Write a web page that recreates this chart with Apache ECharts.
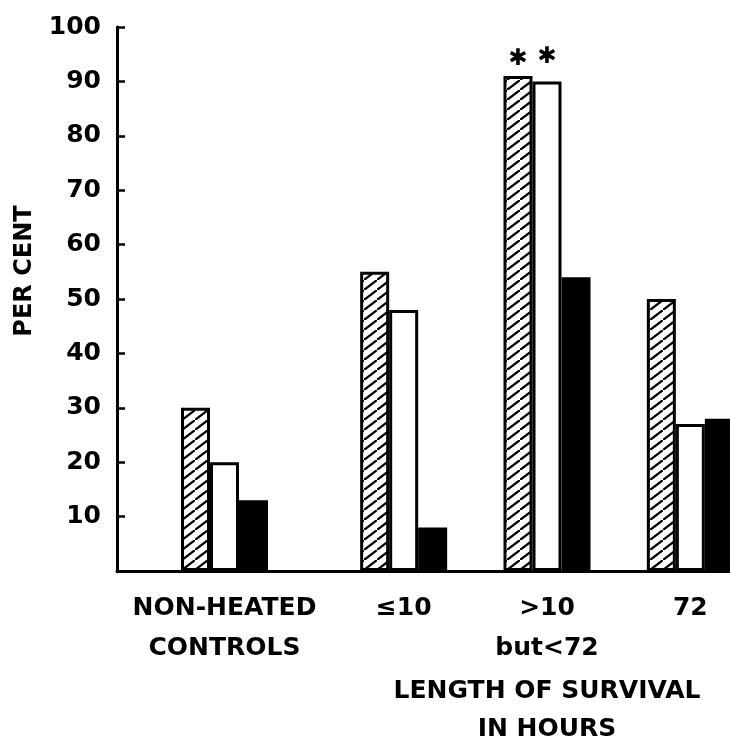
<!DOCTYPE html>
<html>
<head>
<meta charset="utf-8">
<script src="https://cdn.jsdelivr.net/npm/echarts@6/dist/echarts.min.js"></script>
<style>
  html, body { margin: 0; padding: 0; background: #fff; }
  #chart { width: 730px; height: 743px; }
</style>
</head>
<body>
<div id="chart"></div>
<script>
// group labels along the x axis
const controlLabel = ["NON-HEATED\nCONTROLS"];
const survivalLabels = ["≤10", ">10\nbut<72", "72"];

// per cent values, first one is the controls group
const hatchedValues = [30, 55, 91, 50];
const openValues = [20, 48, 90, 27];
const solidValues = [13, 8, 54, 28];

// which bars carry an asterisk
const hatchedStar = [0, 0, 1, 0];
const openStar = [0, 0, 1, 0];

const yTicks = [0, 10, 20, 30, 40, 50, 60, 70, 80, 90, 100];

const FONT = "DejaVu Sans";

// diagonal hatch used for the first bar of each group
function makeHatch() {
  const c = document.createElement("canvas");
  c.width = 13;
  c.height = 10;
  const ctx = c.getContext("2d");
  ctx.fillStyle = "#fff";
  ctx.fillRect(0, 0, 13, 10);
  ctx.strokeStyle = "#000";
  ctx.lineWidth = 2.2;
  ctx.beginPath();
  ctx.moveTo(-13, 20);
  ctx.lineTo(26, -10);
  ctx.stroke();
  return c;
}
const hatch = { image: makeHatch(), repeat: "repeat" };

function starData(values, stars, gap) {
  return values.map((v, i) => {
    if (!stars[i]) return v;
    return {
      value: v,
      label: {
        show: true,
        position: "top",
        distance: gap,
        formatter: "✱",
        fontSize: 23,
        fontWeight: "bold",
        color: "#000",
        fontFamily: FONT,
      },
    };
  });
}

const chart = echarts.init(document.getElementById("chart"), null, { renderer: "canvas" });

const barBase = {
  type: "bar",
  barWidth: 29,
  barGap: "0%",
  emphasis: { disabled: true },
  animation: false,
};

// grid 0 holds the controls, grid 1 the survival groups
const series = [];
const sets = [
  { start: 0, end: 1 },
  { start: 1, end: 4 },
];
sets.forEach((s, gi) => {
  series.push(Object.assign({}, barBase, {
    xAxisIndex: gi, yAxisIndex: gi,
    itemStyle: { color: hatch, borderColor: "#000", borderWidth: 3 },
    data: starData(hatchedValues, hatchedStar, 5).slice(s.start, s.end),
  }));
  series.push(Object.assign({}, barBase, {
    xAxisIndex: gi, yAxisIndex: gi,
    itemStyle: { color: "#fff", borderColor: "#000", borderWidth: 3 },
    data: starData(openValues, openStar, 13).slice(s.start, s.end),
  }));
  series.push(Object.assign({}, barBase, {
    xAxisIndex: gi, yAxisIndex: gi,
    itemStyle: { color: "#000", borderColor: "#000", borderWidth: 3 },
    data: solidValues.slice(s.start, s.end),
  }));
});

const xLabelStyle = {
  fontFamily: FONT,
  fontWeight: "bold",
  fontSize: 25,
  lineHeight: 40,
  color: "#000",
  margin: 17,
};

const option = {
  backgroundColor: "#fff",
  animation: false,
  grid: [
    { left: 117, top: 27, width: 215, bottom: 172, outerBoundsMode: "none" },
    { left: 332, top: 27, width: 430, bottom: 172, outerBoundsMode: "none" },
  ],
  xAxis: [
    {
      type: "category",
      gridIndex: 0,
      data: controlLabel,
      axisLine: { lineStyle: { color: "#000", width: 3 } },
      axisTick: { show: false },
      axisLabel: xLabelStyle,
    },
    {
      type: "category",
      gridIndex: 1,
      data: survivalLabels,
      axisLine: { lineStyle: { color: "#000", width: 3 } },
      axisTick: { show: false },
      axisLabel: xLabelStyle,
      name: "LENGTH OF SURVIVAL\nIN HOURS",
      nameLocation: "middle",
      nameGap: 100,
      nameTextStyle: {
        fontFamily: FONT,
        fontWeight: "bold",
        fontSize: 25,
        lineHeight: 38,
        color: "#000",
      },
    },
  ],
  yAxis: [
    {
      type: "value",
      gridIndex: 0,
      min: yTicks[0],
      max: yTicks[yTicks.length - 1],
      interval: 10,
      splitLine: { show: false },
      axisLine: { show: true, lineStyle: { color: "#000", width: 3 } },
      axisTick: { show: true, inside: true, length: 8, lineStyle: { color: "#000", width: 2.5 } },
      axisLabel: {
        fontFamily: FONT,
        fontWeight: "bold",
        fontSize: 25,
        color: "#000",
        margin: 16,
        formatter: (v) => (v === 0 ? "" : v),
      },
      name: "PER CENT",
      nameLocation: "middle",
      nameRotate: 90,
      nameGap: 80,
      nameTextStyle: {
        fontFamily: FONT,
        fontWeight: "bold",
        fontSize: 24,
        color: "#000",
        padding: [0, 0, 0, 56],
      },
    },
    {
      type: "value",
      gridIndex: 1,
      min: yTicks[0],
      max: yTicks[yTicks.length - 1],
      interval: 10,
      show: false,
    },
  ],
  series: series,
};

chart.setOption(option);
</script>
</body>
</html>
